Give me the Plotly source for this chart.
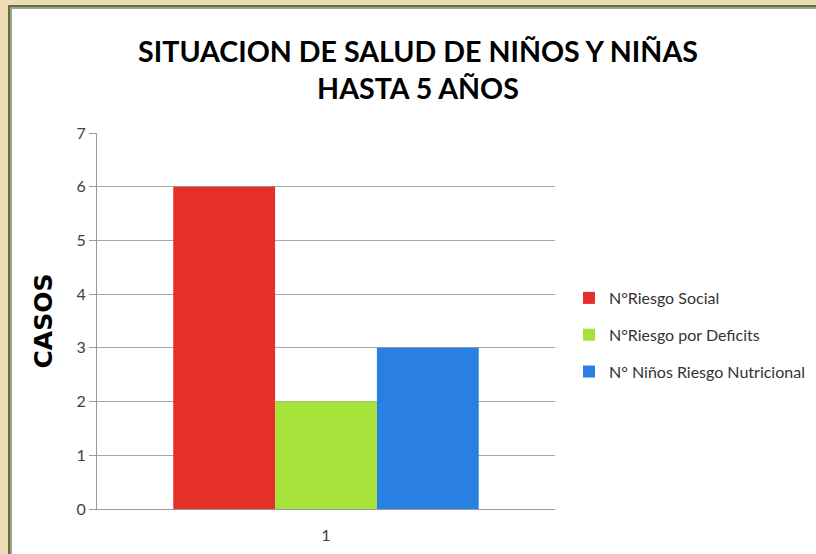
import plotly.graph_objects as go

categories = ["1"]
series_names = ["N°Riesgo Social", "N°Riesgo por Deficits", "N° Niños Riesgo Nutricional"]
series_values = [[6], [2], [3]]
series_colors = ["#E52F29", "#A7E23A", "#2A80E2"]
y_ticks = [0, 1, 2, 3, 4, 5, 6, 7]

fig = go.Figure()
for i, (name, vals, col) in enumerate(zip(series_names, series_values, series_colors)):
    fig.add_trace(go.Bar(x=categories, y=vals, name=name, legendgroup=f"g{i}",
                         marker=dict(color=col, line=dict(width=0))))

W, H = 816, 554
L, R, T, B = 97, 261, 133, 45
pw, ph = W - L - R, H - T - B

def px(x):
    return (x - L) / pw

def py(y):
    return (H - B - y) / ph

def strip(x0, x1, y0, y1, color):
    return dict(type="rect", xref="paper", yref="paper", x0=px(x0), x1=px(x1),
                y0=py(y0), y1=py(y1), fillcolor=color, line=dict(width=0), layer="below")

shapes = [
    strip(0, W, 0, 5, "#EEDDB4"), strip(0, 8, 0, H, "#EEDDB4"),
    strip(8, W, 5, 7, "#5E7432"), strip(8, 10, 5, H, "#5E7432"),
    strip(10, W, 7, 9, "#A0A0A0"), strip(10, 12, 7, H, "#A0A0A0"),
]

fig.update_layout(
    width=W, height=H,
    margin=dict(l=L, r=R, t=T, b=B, autoexpand=False),
    paper_bgcolor="white",
    plot_bgcolor="white",
    shapes=shapes,
    barmode="group",
    bargap=0.333,
    bargroupgap=0,
    title=dict(text="SITUACION DE SALUD DE NIÑOS Y NIÑAS<br>HASTA 5 AÑOS",
               x=418 / W, xanchor="center", y=1 - 62 / H, yanchor="middle",
               font=dict(family="Lato", size=28.6, color="#000000", weight="bold")),
    legend=dict(x=px(569), xanchor="left", y=py(335), yanchor="middle",
                font=dict(family="Lato", size=16, color="#333333"),
                tracegroupgap=13, itemwidth=30, bgcolor="rgba(0,0,0,0)"),
    xaxis=dict(showline=True, linecolor="#9A9A9A", linewidth=1, ticks="", showgrid=False,
               ticklabelstandoff=12,
               tickfont=dict(family="Lato", size=16, color="#404040")),
    yaxis=dict(range=[0, 7], tickvals=y_ticks, showline=True, linecolor="#9A9A9A", linewidth=1,
               ticks="outside", ticklen=7, tickcolor="#9A9A9A",
               gridcolor="#A6A6A6", gridwidth=1, zeroline=False,
               tickfont=dict(family="Lato", size=16, color="#404040"),
               title=dict(text="CASOS", standoff=16,
                          font=dict(family="DejaVu Sans", size=25, color="#000000", weight="bold"))),
    font=dict(family="Lato"),
)

fig.write_html("out.html", config={"displayModeBar": False},
               post_script="document.documentElement.style.overflow='hidden';"
                           "document.body.style.margin='0';document.body.style.overflow='hidden';"
                           "document.body.style.background='white';")
